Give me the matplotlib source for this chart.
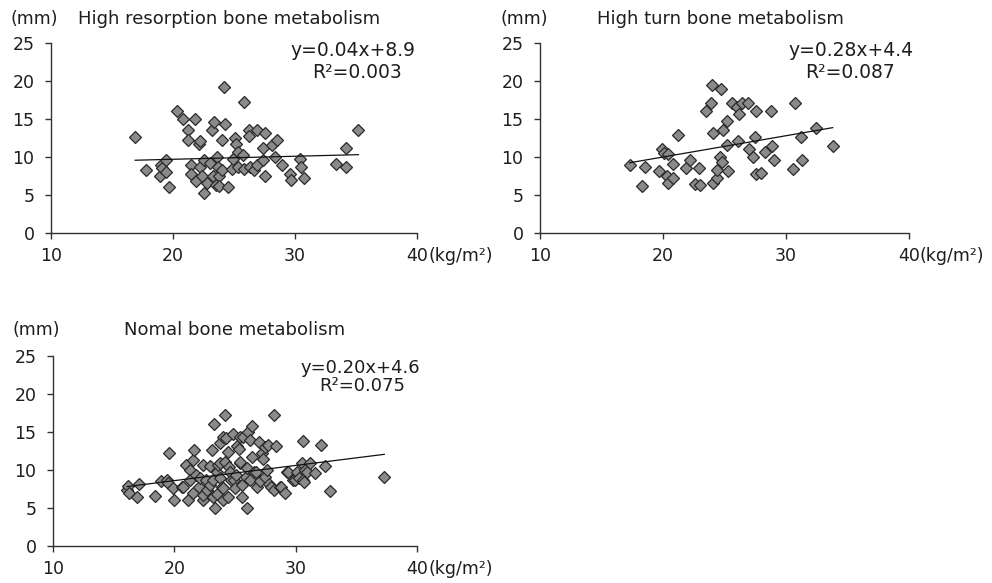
import matplotlib
matplotlib.use("Agg")
import matplotlib.pyplot as plt

# BMI (kg/m2) vs thickness (mm)
hr_x = [16.9, 17.8, 18.9, 19.0, 19.1, 19.4, 19.4, 19.7, 20.3, 20.85, 21.8, 21.25,
        21.25, 21.5, 21.5, 21.9, 22.15, 22.2, 22.2, 22.5, 22.35, 22.5, 22.75, 23.0,
        23.2, 23.35, 23.3, 23.5, 23.6, 23.7, 23.8, 23.8, 24.0, 24.0, 24.2, 24.3,
        24.5, 24.8, 24.9, 25.1, 25.2, 25.35, 25.35, 25.7, 25.8, 25.8, 26.25, 26.25,
        26.3, 26.6, 26.9, 26.9, 27.35, 27.4, 27.5, 27.5, 28.1, 28.4, 28.55, 28.9,
        29.6, 29.7, 30.4, 30.5, 30.7, 33.4, 34.2, 34.2, 35.2]
hr_y = [12.6, 8.3, 7.5, 8.9, 8.5, 9.6, 8.0, 6.0, 16.1, 15.0, 15.0, 13.6,
        12.2, 9.0, 7.7, 6.8, 11.75, 12.05, 8.75, 9.6, 7.45, 5.2, 6.6, 9.2,
        13.6, 14.6, 7.45, 6.35, 10.0, 8.75, 7.5, 6.2, 12.2, 8.3, 19.2, 14.4,
        6.1, 8.4, 9.7, 12.5, 11.75, 10.7, 8.75, 10.3, 17.2, 8.4, 13.6, 12.8,
        8.75, 8.3, 13.5, 9.0, 9.6, 11.2, 13.2, 7.5, 11.6, 10.0, 12.3, 9.0,
        7.7, 7.0, 9.7, 8.75, 7.2, 9.1, 11.2, 8.7, 13.5]

ht_x = [17.3, 18.5, 18.3, 19.7, 19.95, 20.1, 20.4, 20.3, 20.4, 20.85, 20.85, 21.25,
        21.9, 22.2, 22.6, 22.9, 23.0, 23.5, 23.9, 23.96, 24.05, 24.1, 24.4, 24.4,
        24.6, 24.7, 24.8, 24.9, 25.2, 25.2, 25.3, 25.6, 26.0, 26.1, 26.2, 26.4,
        26.9, 27.0, 27.3, 27.5, 27.6, 27.6, 28.0, 28.3, 28.75, 28.9, 29.0, 30.6,
        30.7, 31.2, 31.3, 32.4, 33.8]
ht_y = [8.9, 8.7, 6.2, 8.1, 11.1, 10.5, 10.4, 7.45, 6.6, 9.1, 7.2, 12.9,
        8.55, 9.6, 6.5, 8.55, 6.35, 16.0, 17.1, 19.5, 13.2, 6.6, 7.2, 8.3,
        10.0, 18.9, 9.4, 13.5, 14.7, 11.6, 8.1, 17.1, 16.6, 12.05, 15.6, 17.1,
        17.1, 11.05, 10.0, 12.6, 16.0, 7.7, 7.9, 10.6, 16.0, 11.5, 9.6, 8.4,
        17.1, 12.6, 9.6, 13.8, 11.5]

nm_x = [16.1, 16.2, 16.3, 16.9, 17.1, 18.4, 18.9, 19.4, 19.5, 19.6, 19.9, 20.0,
        20.6, 20.7, 20.95, 21.1, 21.3, 21.3, 21.5, 21.6, 21.55, 21.8, 22.05, 22.1,
        22.4, 22.4, 22.4, 22.6, 22.7, 22.9, 22.9, 23.1, 23.2, 23.2, 23.3, 23.35,
        23.5, 23.5, 23.6, 23.75, 23.8, 23.8, 23.9, 24.0, 24.0, 24.0, 24.2, 24.2,
        24.25, 24.45, 24.45, 24.5, 24.6, 24.7, 24.85, 24.9, 25.0, 25.1, 25.2, 25.3,
        25.4, 25.4, 25.4, 25.6, 25.6, 25.7, 25.9, 26.0, 26.0, 26.1, 26.2, 26.2,
        26.4, 26.4, 26.6, 26.7, 26.8, 27.0, 27.1, 27.2, 27.3, 27.5, 27.5, 27.6,
        27.7, 27.8, 28.0, 28.2, 28.2, 28.4, 28.7, 28.8, 29.1, 29.3, 29.4, 29.8,
        29.95, 30.1, 30.3, 30.5, 30.6, 30.6, 30.7, 30.8, 30.9, 31.2, 31.6, 32.1,
        32.4, 32.85, 37.3]
nm_y = [7.4, 7.9, 7.0, 6.4, 8.1, 6.6, 8.6, 8.7, 8.3, 12.2, 7.6, 6.0,
        7.8, 7.7, 10.6, 6.0, 10.0, 8.7, 11.3, 12.6, 7.0, 9.3, 7.8, 9.0,
        10.6, 6.0, 6.7, 8.7, 7.4, 10.5, 8.0, 12.6, 8.7, 6.5, 16.0, 5.0,
        9.8, 6.9, 10.6, 13.5, 10.9, 8.9, 7.8, 6.0, 7.6, 14.4, 17.2, 11.1,
        14.2, 12.4, 6.5, 10.4, 9.8, 8.7, 14.8, 8.7, 7.6, 9.4, 13.2, 12.8,
        10.9, 11.1, 14.4, 8.0, 6.4, 14.4, 9.1, 10.2, 5.0, 15.0, 13.9, 8.7,
        15.8, 11.7, 9.8, 9.8, 7.8, 13.7, 8.6, 12.2, 11.5, 13.0, 9.1, 10.0,
        13.3, 8.2, 7.7, 17.3, 7.4, 13.2, 7.7, 7.8, 7.0, 9.8, 9.8, 8.7,
        8.7, 9.8, 8.9, 10.9, 13.8, 8.7, 8.4, 10.0, 9.8, 10.9, 9.6, 13.3,
        10.5, 7.3, 9.1]

titles = ["High resorption bone metabolism", "High turn bone metabolism",
          "Nomal bone metabolism"]
slopes = [0.04, 0.28, 0.20]
intercepts = [8.9, 4.4, 4.6]
r2_values = ["0.003", "0.087", "0.075"]
x_ticks = [10, 20, 30, 40]
y_ticks = [0, 5, 10, 15, 20, 25]

TXT = "#1e1e1e"
plt.rcParams["font.family"] = "DejaVu Sans"

fig = plt.figure(figsize=(9.92, 5.83), dpi=100)
ax1 = fig.add_axes([51 / 992, 1 - 233 / 583, 366 / 992, 190 / 583])
ax2 = fig.add_axes([540 / 992, 1 - 233 / 583, 369 / 992, 190 / 583])
ax3 = fig.add_axes([53 / 992, 1 - 546 / 583, 364 / 992, 190 / 583])

# per panel: title offset (px), eq x, eq y, r2 x, r2 y (axes fraction), header offset (px)
layout = [
    (27, 0.825, 0.962, 0.836, 0.845, 24),
    (57, 0.842, 0.962, 0.840, 0.845, 24),
    (71, 0.843, 0.935, 0.850, 0.842, 26),
]

panels = [(ax1, hr_x, hr_y), (ax2, ht_x, ht_y), (ax3, nm_x, nm_y)]
for i, (ax, xs, ys) in enumerate(panels):
    toff, ex, ey, rx, ry, hoff = layout[i]
    ax.plot(xs, ys, linestyle="none", marker="D", markersize=6.3,
            markerfacecolor="#8a8a8a", markeredgecolor="#2a2a2a",
            markeredgewidth=0.9, zorder=3)
    x0, x1 = min(xs), max(xs)
    ax.plot([x0, x1], [slopes[i] * x0 + intercepts[i], slopes[i] * x1 + intercepts[i]],
            color="#111111", linewidth=0.9, zorder=4)

    ax.set_xlim(10, 40)
    ax.set_ylim(0, 25)
    ax.set_xticks(x_ticks)
    ax.set_yticks(y_ticks)
    for s in ["top", "right"]:
        ax.spines[s].set_visible(False)
    for s in ["left", "bottom"]:
        ax.spines[s].set_color("#333333")
        ax.spines[s].set_linewidth(1.0)
    ax.tick_params(axis="both", direction="out", length=4.3, width=1.0,
                   color="#333333", labelsize=12.5, labelcolor=TXT)
    ax.tick_params(axis="x", pad=6)
    ax.tick_params(axis="y", pad=7.5)

    eq_size = 13.5 if i < 2 else 13
    ax.text(ex, ey, f"y={slopes[i]:.2f}x+{intercepts[i]}", transform=ax.transAxes,
            ha="center", va="center", fontsize=eq_size, color=TXT)
    ax.text(rx, ry, f"R²={r2_values[i]}", transform=ax.transAxes,
            ha="center", va="center", fontsize=eq_size, color=TXT)

    ax.annotate("(mm)", xy=(0, 1), xycoords="axes fraction",
                xytext=(-40, hoff), textcoords="offset pixels",
                ha="left", va="center", fontsize=12.5, color=TXT)
    ax.annotate(titles[i], xy=(0, 1), xycoords="axes fraction",
                xytext=(toff, hoff), textcoords="offset pixels",
                ha="left", va="center", fontsize=13, color=TXT)
    ax.annotate("(kg/m²)", xy=(40, 0), xycoords="data",
                xytext=(11, -(4.3 + 6) * 100 / 72), textcoords="offset pixels",
                ha="left", va="top", fontsize=12.5, color=TXT,
                annotation_clip=False)

fig.savefig("out.png", dpi=100)
